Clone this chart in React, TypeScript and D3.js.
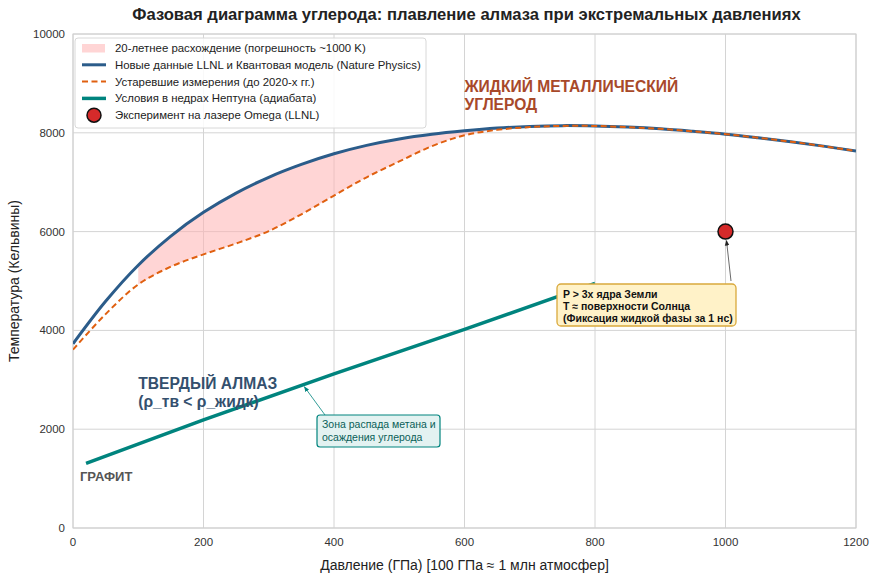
import React from "react";
import * as d3 from "d3";

const pressures = [0, 50, 100, 150, 200, 250, 300, 350, 400, 450, 500, 550, 600, 650, 700, 750, 800, 850, 900, 950, 1000, 1050, 1100, 1150, 1200];
const newMelting = [3730, 4590, 5320, 5910, 6390, 6780, 7100, 7360, 7575, 7745, 7875, 7970, 8040, 8095, 8130, 8145, 8138, 8115, 8080, 8030, 7973, 7900, 7820, 7730, 7630];
const oldMelting = [3610, 4330, 4930, 5290, 5540, 5760, 6010, 6350, 6730, 7100, 7420, 7730, 7950, 8060, 8115, 8140, 8138, 8115, 8080, 8030, 7973, 7900, 7820, 7730, 7630];
const neptuneP = [20, 200, 400, 600, 800];
const neptuneT = [1310, 2190, 3120, 4020, 4950];
const omegaP = [1000];
const omegaT = [6000];
const xTicks = [0, 200, 400, 600, 800, 1000, 1200];
const yTicks = [0, 2000, 4000, 6000, 8000, 10000];

const W = 877, H = 580;
const M = { left: 73, right: 856, top: 34, bottom: 528 };
const FONT = "'Liberation Sans', Arial, sans-serif";

const BLUE = "#2b5c8a";
const ORANGE = "#e06010";
const TEAL = "#00847e";

export default function App() {
  const x = d3.scaleLinear().domain([0, 1200]).range([M.left, M.right]);
  const y = d3.scaleLinear().domain([0, 10000]).range([M.bottom, M.top]);

  const idx = pressures.map((_, i) => i);
  const curve = d3.curveCatmullRom.alpha(0.5);
  const line = (arr: number[]) =>
    d3.line<number>().x((i) => x(pressures[i])).y((i) => y(arr[i])).curve(curve)(idx) || "";
  const fillIdx = idx.filter((i) => pressures[i] >= 100 && pressures[i] <= 750);
  const area =
    d3.area<number>().x((i) => x(pressures[i])).y0((i) => y(oldMelting[i])).y1((i) => y(newMelting[i])).curve(curve)(fillIdx) || "";
  const nepLine =
    d3.line<number>().x((i) => x(neptuneP[i])).y((i) => y(neptuneT[i]))(neptuneP.map((_, i) => i)) || "";

  const zoneTip = { x: x(353), y: y(2900) };
  const omegaXY = { x: x(omegaP[0]), y: y(omegaT[0]) };

  const legendItems = [
    { kind: "rect", label: "20-летнее расхождение (погрешность ~1000 K)" },
    { kind: "blue", label: "Новые данные LLNL и Квантовая модель (Nature Physics)" },
    { kind: "orange", label: "Устаревшие измерения (до 2020-х гг.)" },
    { kind: "teal", label: "Условия в недрах Нептуна (адиабата)" },
    { kind: "dot", label: "Эксперимент на лазере Omega (LLNL)" },
  ];

  return (
    <svg width={W} height={H} style={{ position: "absolute", left: 0, top: 0, background: "#fff" }} fontFamily={FONT}>
      <defs>
        <marker id="tealHead" viewBox="0 0 10 10" refX="9" refY="5" markerWidth="7" markerHeight="7" orient="auto-start-reverse">
          <path d="M0,1 L10,5 L0,9 z" fill={TEAL} />
        </marker>
        <marker id="blackHead" viewBox="0 0 10 10" refX="9" refY="5" markerWidth="7" markerHeight="7" orient="auto-start-reverse">
          <path d="M0,1 L10,5 L0,9 z" fill="#222" />
        </marker>
        <clipPath id="plotClip">
          <rect x={M.left} y={M.top} width={M.right - M.left} height={M.bottom - M.top} />
        </clipPath>
      </defs>

      {xTicks.map((t) => (
        <line key={"gx" + t} x1={x(t)} x2={x(t)} y1={M.top} y2={M.bottom} stroke="#d4d4d4" strokeWidth={1} />
      ))}
      {yTicks.map((t) => (
        <line key={"gy" + t} x1={M.left} x2={M.right} y1={y(t)} y2={y(t)} stroke="#d4d4d4" strokeWidth={1} />
      ))}
      <rect x={M.left} y={M.top} width={M.right - M.left} height={M.bottom - M.top} fill="none" stroke="#cfcfcf" strokeWidth={1} />

      {xTicks.map((t) => (
        <text key={"tx" + t} x={x(t)} y={M.bottom + 18} textAnchor="middle" fontSize={11.5} fill="#333">{t}</text>
      ))}
      {yTicks.map((t) => (
        <text key={"ty" + t} x={M.left - 8} y={y(t) + 4} textAnchor="end" fontSize={11.5} fill="#333">{t}</text>
      ))}

      <text x={(M.left + M.right) / 2} y={570} textAnchor="middle" fontSize={14} fill="#222">Давление (ГПа) [100 ГПа ≈ 1 млн атмосфер]</text>
      <text transform={`translate(19,${(M.top + M.bottom) / 2}) rotate(-90)`} textAnchor="middle" fontSize={14} fill="#222">Температура (Кельвины)</text>

      <text x={(M.left + M.right) / 2 + 2} y={20} textAnchor="middle" fontSize={16.6} fontWeight="bold" fill="#222">Фазовая диаграмма углерода: плавление алмаза при экстремальных давлениях</text>

      <g clipPath="url(#plotClip)">
        <path d={area} fill="#ffb3b3" fillOpacity={0.55} stroke="none" />
        <path d={nepLine} fill="none" stroke={TEAL} strokeWidth={3.5} />
        <path d={line(newMelting)} fill="none" stroke={BLUE} strokeWidth={3} />
        <path d={line(oldMelting)} fill="none" stroke={ORANGE} strokeWidth={2} strokeDasharray="6,3.5" />
      </g>

      <text fontSize={15.6} fontWeight="bold" fill="#a8492a">
        <tspan x={x(600)} y={92}>ЖИДКИЙ МЕТАЛЛИЧЕСКИЙ</tspan>
        <tspan x={x(600)} y={110}>УГЛЕРОД</tspan>
      </text>
      <text fontSize={15.6} fontWeight="bold" fill="#34506e">
        <tspan x={x(100)} y={389}>ТВЕРДЫЙ АЛМАЗ</tspan>
        <tspan x={x(100)} y={407}>(ρ_тв &lt; ρ_жидк)</tspan>
      </text>
      <text x={80} y={481} fontSize={13} fontWeight="bold" fill="#555">ГРАФИТ</text>

      <line x1={325} y1={415} x2={zoneTip.x + 1} y2={zoneTip.y + 2} stroke={TEAL} strokeWidth={0.8} markerEnd="url(#tealHead)" />
      <rect x={317} y={415} width={123} height={32} rx={3} fill="#e3f2f1" stroke={TEAL} strokeWidth={1.2} />
      <text fontSize={10.5} fill="#0a5f58">
        <tspan x={322} y={428}>Зона распада метана и</tspan>
        <tspan x={322} y={441}>осаждения углерода</tspan>
      </text>

      <line x1={731} y1={281} x2={omegaXY.x + 1} y2={omegaXY.y + 9} stroke="#444" strokeWidth={0.8} markerEnd="url(#blackHead)" />
      <rect x={557} y={284} width={179} height={42} rx={4} fill="#fff2c8" stroke="#d9a93c" strokeWidth={1.3} />
      <text fontSize={10.5} fontWeight="bold" fill="#111">
        <tspan x={563} y={298}>P &gt; 3x ядра Земли</tspan>
        <tspan x={563} y={310}>T ≈ поверхности Солнца</tspan>
        <tspan x={563} y={322}>(Фиксация жидкой фазы за 1 нс)</tspan>
      </text>

      {omegaP.map((p, i) => (
        <circle key={"om" + i} cx={x(p)} cy={y(omegaT[i])} r={7.5} fill="#d62a2a" stroke="#111" strokeWidth={1.5} />
      ))}

      <g>
        <rect x={75} y={38} width={351} height={90} rx={3} fill="#fff" fillOpacity={0.85} stroke="#d8d8d8" strokeWidth={1} />
        {legendItems.map((it, i) => {
          const cy = 48 + i * 16.8;
          return (
            <g key={"lg" + i}>
              {it.kind === "rect" && <rect x={82} y={cy - 4} width={23} height={8.5} fill="#ffb3b3" fillOpacity={0.55} />}
              {it.kind === "blue" && <line x1={82} x2={106} y1={cy} y2={cy} stroke={BLUE} strokeWidth={3} />}
              {it.kind === "orange" && <line x1={82} x2={106} y1={cy} y2={cy} stroke={ORANGE} strokeWidth={2} strokeDasharray="6,3.5" />}
              {it.kind === "teal" && <line x1={82} x2={106} y1={cy} y2={cy} stroke={TEAL} strokeWidth={3.5} />}
              {it.kind === "dot" && <circle cx={94} cy={cy} r={7} fill="#d62a2a" stroke="#111" strokeWidth={1.5} />}
              <text x={115} y={cy + 4} fontSize={11.4} fill="#222">{it.label}</text>
            </g>
          );
        })}
      </g>
    </svg>
  );
}
